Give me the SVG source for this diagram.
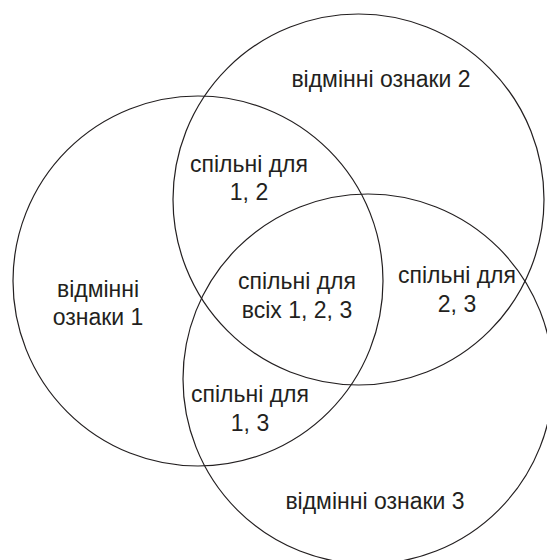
<svg xmlns="http://www.w3.org/2000/svg" width="547" height="560" viewBox="0 0 547 560">
<style>
.c{fill:none;stroke:#231f20;stroke-width:1.2}
text{font-family:"Liberation Sans",Arial,sans-serif;font-size:23px;fill:#231f20;text-anchor:middle}
</style>
<rect width="547" height="560" fill="#fff"/>
<g id="circle1"><circle class="c" cx="198" cy="281" r="185"/></g>
<g id="circle2"><circle class="c" cx="358.5" cy="199.5" r="185.5"/></g>
<g id="circle3"><circle class="c" cx="368" cy="379" r="185"/></g>
<g id="label-2"><text x="381" y="87">відмінні ознаки 2</text></g>
<g id="label-12"><text x="249" y="172">спільні для</text><text x="249" y="200">1, 2</text></g>
<g id="label-1"><text x="98" y="297">відмінні</text><text x="98" y="325">ознаки 1</text></g>
<g id="label-123"><text x="297" y="289">спільні для</text><text x="297" y="318">всіх 1, 2, 3</text></g>
<g id="label-23"><text x="457" y="283">спільні для</text><text x="457" y="312">2, 3</text></g>
<g id="label-13"><text x="250" y="402">спільні для</text><text x="250" y="431">1, 3</text></g>
<g id="label-3"><text x="375" y="509">відмінні ознаки 3</text></g>
</svg>
